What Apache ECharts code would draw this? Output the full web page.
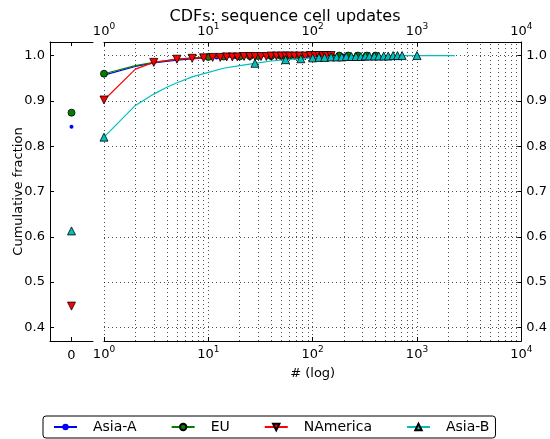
<!DOCTYPE html>
<html><head><meta charset="utf-8">
<script src="https://cdn.jsdelivr.net/npm/echarts@6/dist/echarts.min.js"></script>
<style>html,body{margin:0;padding:0;background:#fff}#c{width:550px;height:439px}</style>
</head><body><div id="c"></div><script>
// ---- data ----
const seriesNames = ['Asia-A', 'EU', 'NAmerica', 'Asia-B'];
// fraction at value 0 (left panel)
const zeroValues = [0.843, 0.874, 0.447, 0.613];

const asiaAX = [1, 2, 3, 5, 8, 12, 18, 25, 32, 45, 60, 90, 130, 200];
const asiaAY = [0.957, 0.976, 0.984, 0.990, 0.994, 0.996, 0.997, 0.998, 0.998, 0.999, 0.999, 0.999, 1.0, 1.0];
const asiaAMarks = [12, 18, 25, 32, 45, 60, 90, 130, 200];

const euX = [1, 2, 3, 4, 5, 7, 10, 14, 20, 25, 30, 40, 50, 60, 70, 80, 100, 120, 150, 180, 220, 270, 330, 400];
const euY = [0.960, 0.978, 0.985, 0.989, 0.992, 0.995, 0.997, 0.998, 0.998, 0.999, 0.999, 0.999, 0.999, 0.999, 1.0, 1.0, 1.0, 1.0, 1.0, 1.0, 1.0, 1.0, 1.0, 1.0];
const euMarks = [1, 10, 14, 20, 25, 30, 40, 50, 60, 70, 80, 100, 120, 150, 180, 220, 270, 330, 400];

const naX = [1, 2, 3, 5, 7, 9, 11, 13, 15, 17, 19, 22, 25, 28, 32, 36, 40, 45, 50, 55, 60, 67, 75, 85, 95, 105, 115, 125, 135, 150];
const naY = [0.902, 0.970, 0.985, 0.992, 0.994, 0.995, 0.996, 0.996, 0.997, 0.997, 0.997, 0.998, 0.998, 0.998, 0.998, 0.998, 0.999, 0.999, 0.999, 0.999, 0.999, 0.999, 0.999, 0.999, 1.0, 1.0, 1.0, 1.0, 1.0, 1.0];
const naMarks = [1, 3, 5, 7, 9, 11, 13, 15, 17, 19, 22, 25, 28, 32, 36, 40, 45, 50, 55, 60, 67, 75, 85, 95, 105, 115, 125, 135, 150];

const asiaBX = [1, 2, 3, 4, 5, 7, 10, 14, 20, 28, 40, 55, 77, 100, 115, 130, 150, 170, 190, 210, 235, 260, 290, 320, 350, 390, 430, 480, 530, 590, 650, 720, 1000, 2300];
const asiaBY = [0.820, 0.890, 0.915, 0.930, 0.940, 0.953, 0.963, 0.972, 0.978, 0.983, 0.988, 0.991, 0.993, 0.995, 0.996, 0.996, 0.997, 0.997, 0.997, 0.998, 0.998, 0.998, 0.998, 0.999, 0.999, 0.999, 0.999, 0.999, 0.999, 1.0, 1.0, 1.0, 1.0, 1.0];
const asiaBMarks = [1, 28, 55, 77, 100, 115, 130, 150, 170, 190, 210, 235, 260, 290, 320, 350, 390, 430, 480, 530, 590, 650, 720, 1000];

const yTicks = [0.4, 0.5, 0.6, 0.7, 0.8, 0.9, 1.0];
const minorGridX = [2,3,4,5,6,7,8,9,20,30,40,50,60,70,80,90,200,300,400,500,600,700,800,900,2000,3000,4000,5000,6000,7000,8000,9000];

// ---- styles ----
const FONT = 'DejaVu Sans';
const colors = ['#0000ff', '#008000', '#ff0000', '#00bfbf'];
const symbols = ['circle', 'circle', 'triangle', 'triangle'];
const sizes = [4, 7, 8, 8];
const rotates = [0, 0, 180, 0];
const borders = [0, 0.8, 0.8, 0.8];
const curves = [[asiaAX, asiaAY, asiaAMarks], [euX, euY, euMarks], [naX, naY, naMarks], [asiaBX, asiaBY, asiaBMarks]];

const dotted = {color: '#000', width: 1, type: [1, 3], opacity: 0.7};
const supFmt = v => '{b|10}{s|' + Math.round(Math.log10(v)) + '}';
const richSup = {
  b: {fontFamily: FONT, fontSize: 13, color: '#000', verticalAlign: 'bottom'},
  s: {fontFamily: FONT, fontSize: 9, color: '#000', verticalAlign: 'bottom', padding: [0, 0, 7, 0]}
};

const series = [];
curves.forEach((c, i) => {
  const [xs, ys, marks] = c;
  const data = xs.map((x, k) => {
    const item = {value: [x, ys[k]]};
    if (marks.indexOf(x) < 0) item.symbol = 'none';
    return item;
  });
  series.push({
    name: seriesNames[i], type: 'line', xAxisIndex: 2, yAxisIndex: 1,
    data: data, symbol: symbols[i], symbolSize: sizes[i], symbolRotate: rotates[i],
    showSymbol: true, showAllSymbol: true, smooth: false,
    lineStyle: {color: colors[i], width: 1.2},
    itemStyle: {color: colors[i], borderColor: '#000', borderWidth: borders[i]},
    emphasis: {disabled: true}, z: 3 + i,
    markLine: i === 0 ? {
      silent: true, symbol: 'none', label: {show: false}, animation: false,
      lineStyle: dotted, z: 1,
      data: minorGridX.map(v => ({xAxis: v}))
    } : undefined
  });
});
zeroValues.forEach((v, i) => {
  series.push({
    name: seriesNames[i], type: 'scatter', xAxisIndex: 0, yAxisIndex: 0,
    data: [[0, v]], symbol: symbols[i], symbolSize: sizes[i], symbolRotate: rotates[i],
    itemStyle: {color: colors[i], borderColor: '#000', borderWidth: borders[i], opacity: 1},
    emphasis: {disabled: true}, z: 3 + i
  });
});

const axisLineStyle = {color: '#000', width: 1};
const option = {
  animation: false,
  backgroundColor: '#fff',
  title: {
    text: 'CDFs: sequence cell updates', left: 280, top: 4, textAlign: 'center',
    textStyle: {fontFamily: FONT, fontSize: 16, fontWeight: 'normal', color: '#000'}
  },
  legend: {
    data: seriesNames, left: 43, bottom: 1, orient: 'horizontal',
    itemWidth: 23, itemHeight: 8, itemGap: 34,
    padding: [4, 6, 4, 10],
    borderColor: '#000', borderWidth: 1, borderRadius: 3,
    textStyle: {fontFamily: FONT, fontSize: 14, color: '#000', padding: [0, 0, 0, 11]}
  },
  grid: [
    {left: 50, right: 457, top: 42, bottom: 98},
    {left: 104, right: 23, top: 42, bottom: 98}
  ],
  xAxis: [
    {gridIndex: 0, type: 'value', min: -1, max: 1, position: 'bottom',
     axisLine: {show: true, onZero: false, lineStyle: axisLineStyle},
     axisTick: {show: true, inside: true, length: 4, customValues: [0], lineStyle: axisLineStyle},
     axisLabel: {customValues: [0], formatter: v => String(v), fontFamily: FONT, fontSize: 13, color: '#000', margin: 8},
     splitLine: {show: false}},
    {gridIndex: 0, type: 'value', min: -1, max: 1, position: 'top',
     axisLine: {show: true, onZero: false, lineStyle: axisLineStyle},
     axisTick: {show: true, inside: true, length: 4, customValues: [0], lineStyle: axisLineStyle},
     axisLabel: {show: false}, splitLine: {show: false}},
    {gridIndex: 1, type: 'log', logBase: 10, min: 1, max: 10000, position: 'bottom',
     name: '# (log)', nameLocation: 'middle', nameGap: 26,
     nameTextStyle: {fontFamily: FONT, fontSize: 13, color: '#000'},
     axisLine: {show: true, onZero: false, lineStyle: axisLineStyle},
     axisTick: {show: true, inside: true, length: 4, lineStyle: axisLineStyle},
     axisLabel: {formatter: supFmt, rich: richSup, margin: 4},
     splitLine: {show: true, lineStyle: dotted}},
    {gridIndex: 1, type: 'log', logBase: 10, min: 1, max: 10000, position: 'top',
     axisLine: {show: true, onZero: false, lineStyle: axisLineStyle},
     axisTick: {show: true, inside: true, length: 4, lineStyle: axisLineStyle},
     axisLabel: {formatter: supFmt, rich: richSup, margin: 4},
     splitLine: {show: false}}
  ],
  yAxis: [
    {gridIndex: 0, type: 'value', min: 0.37, max: 1.03, position: 'left',
     name: 'Cumulative fraction', nameLocation: 'middle', nameGap: 25, nameRotate: 90,
     nameMoveOverlap: false,
     nameTextStyle: {fontFamily: FONT, fontSize: 13, color: '#000'},
     axisLine: {show: true, onZero: false, lineStyle: axisLineStyle},
     axisTick: {show: true, inside: true, length: 4, customValues: yTicks, lineStyle: axisLineStyle},
     axisLabel: {customValues: yTicks, formatter: v => v.toFixed(1), fontFamily: FONT, fontSize: 13, color: '#000', margin: 5},
     splitLine: {show: false}},
    {gridIndex: 1, type: 'value', min: 0.37, max: 1.03, position: 'right',
     axisLine: {show: true, onZero: false, lineStyle: axisLineStyle},
     axisTick: {show: true, inside: true, length: 4, customValues: yTicks, lineStyle: axisLineStyle},
     axisLabel: {customValues: yTicks, formatter: v => v.toFixed(1), fontFamily: FONT, fontSize: 13, color: '#000', margin: 5},
     splitLine: {show: true, lineStyle: dotted}}
  ],
  series: series
};
const chart = echarts.init(document.getElementById('c'), null, {renderer: 'canvas'});
chart.setOption(option);
</script></body></html>
